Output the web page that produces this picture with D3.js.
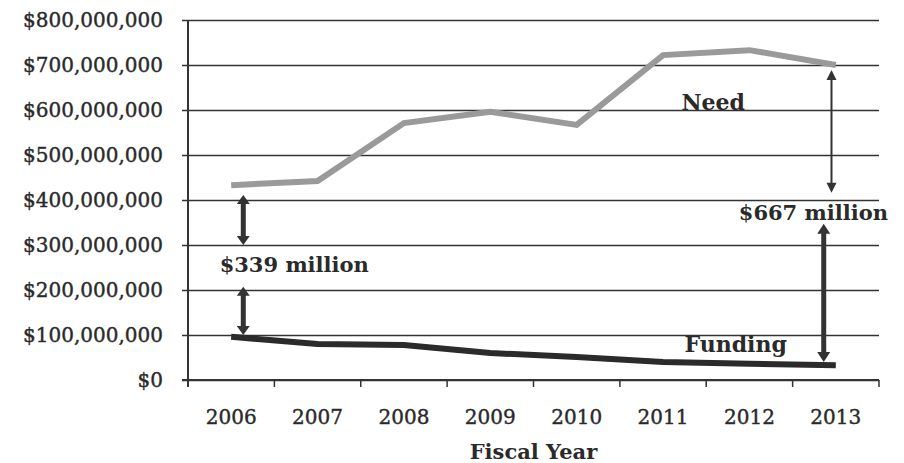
<!DOCTYPE html>
<html>
<head>
<meta charset="utf-8">
<script src="https://cdn.jsdelivr.net/npm/d3@7"></script>
<style>
  html, body { margin: 0; padding: 0; background: #fff; }
  svg { display: block; }
</style>
</head>
<body>
<div id="chart"></div>
<script>
// values in millions of dollars
const years = ["2006", "2007", "2008", "2009", "2010", "2011", "2012", "2013"];
const need = [433, 442, 571, 596, 567, 722, 733, 700];
const funding = [96, 80, 78, 60, 51, 40, 36, 33];
const yTicks = [0, 100, 200, 300, 400, 500, 600, 700, 800];

// gap annotations: position on the year axis (index), from/to value
const gapArrows = [
    { at: 0.14, from: 411, to: 300, w: 5, head: 13, len: 9 },
    { at: 0.14, from: 207, to: 100, w: 5, head: 13, len: 9 },
    { at: 6.95, from: 689, to: 416, w: 2, head: 10, len: 10 },
    { at: 6.86, from: 347, to: 40, w: 5, head: 13, len: 10 }
];
const labels = [
    { text: "Need", at: 5.58, value: 600, size: 22 },
    { text: "Funding", at: 5.84, value: 62, size: 22 },
    { text: "$339 million", at: 0.73, value: 240, size: 21 },
    { text: "$667 million", at: 6.74, value: 355, size: 21 }
];

const W = 904, H = 463;
const plotLeft = 188, plotRight = 879, plotTop = 20, plotBottom = 380;
const serif = "'DejaVu Serif', serif";
const ink = "#2a2a2a";

const svg = d3.select("#chart").append("svg")
    .attr("width", W)
    .attr("height", H);

const x = d3.scaleBand().domain(years).range([plotLeft, plotRight]).padding(0);
const xi = d3.scaleLinear().domain([-0.5, years.length - 0.5]).range([plotLeft, plotRight]);
const y = d3.scaleLinear().domain([0, 800]).range([plotBottom, plotTop]);

const fmt = d => "$" + d3.format(",")(d * 1e6);

// y axis with gridlines
const yAxis = svg.append("g")
    .attr("transform", `translate(${plotLeft},0)`)
    .call(d3.axisLeft(y)
        .tickValues(yTicks)
        .tickSize(-(plotRight - plotLeft))
        .tickSizeOuter(0)
        .tickPadding(25)
        .tickFormat(fmt));
yAxis.select(".domain").remove();
yAxis.selectAll(".tick line")
    .attr("x1", -6)
    .attr("stroke", "#333")
    .attr("stroke-width", 1.5);
yAxis.selectAll(".tick text")
    .attr("fill", ink)
    .attr("stroke", ink)
    .attr("stroke-width", 0.4)
    .style("font-family", serif)
    .style("font-size", "20px");

// vertical axis line
svg.append("line")
    .attr("x1", plotLeft).attr("x2", plotLeft)
    .attr("y1", y(800)).attr("y2", plotBottom + 7)
    .attr("stroke", "#333")
    .attr("stroke-width", 2);

// x axis: line, ticks between categories, labels at centers
svg.append("line")
    .attr("x1", plotLeft - 6).attr("x2", plotRight)
    .attr("y1", plotBottom).attr("y2", plotBottom)
    .attr("stroke", "#333")
    .attr("stroke-width", 2);

svg.append("g")
    .selectAll("line")
    .data(years)
    .join("line")
    .attr("x1", d => x(d) + x.bandwidth())
    .attr("x2", d => x(d) + x.bandwidth())
    .attr("y1", plotBottom)
    .attr("y2", plotBottom + 7)
    .attr("stroke", "#333")
    .attr("stroke-width", 1.5);

svg.append("g")
    .selectAll("text")
    .data(years)
    .join("text")
    .attr("x", d => x(d) + x.bandwidth() / 2)
    .attr("y", plotBottom + 44)
    .attr("text-anchor", "middle")
    .attr("fill", ink)
    .attr("stroke", ink)
    .attr("stroke-width", 0.4)
    .style("font-family", serif)
    .style("font-size", "20px")
    .text(d => d);

svg.append("text")
    .attr("x", (plotLeft + plotRight) / 2)
    .attr("y", 459)
    .attr("text-anchor", "middle")
    .attr("fill", ink)
    .style("font-family", serif)
    .style("font-weight", "bold")
    .style("font-size", "21px")
    .text("Fiscal Year");

// series lines
const line = d3.line()
    .x((d, i) => x(years[i]) + x.bandwidth() / 2)
    .y(d => y(d));

svg.append("path")
    .datum(need)
    .attr("d", line)
    .attr("fill", "none")
    .attr("stroke", "#9a9a9a")
    .attr("stroke-width", 6);

svg.append("path")
    .datum(funding)
    .attr("d", line)
    .attr("fill", "none")
    .attr("stroke", "#2b2b2b")
    .attr("stroke-width", 6);

// double-headed arrows
const arrows = svg.append("g").attr("fill", "#333").attr("stroke", "#333");
gapArrows.forEach(a => {
    const ax = xi(a.at), y1 = y(a.from), y2 = y(a.to);
    arrows.append("line")
        .attr("x1", ax).attr("x2", ax)
        .attr("y1", y1 + a.len - 1).attr("y2", y2 - a.len + 1)
        .attr("stroke-width", a.w);
    arrows.append("path")
        .attr("stroke", "none")
        .attr("d", `M${ax},${y1} L${ax - a.head / 2},${y1 + a.len} L${ax + a.head / 2},${y1 + a.len} Z`);
    arrows.append("path")
        .attr("stroke", "none")
        .attr("d", `M${ax},${y2} L${ax - a.head / 2},${y2 - a.len} L${ax + a.head / 2},${y2 - a.len} Z`);
});

// text annotations
svg.append("g")
    .selectAll("text")
    .data(labels)
    .join("text")
    .attr("x", d => xi(d.at))
    .attr("y", d => y(d.value))
    .attr("text-anchor", "middle")
    .attr("fill", ink)
    .style("font-family", serif)
    .style("font-weight", "bold")
    .style("font-size", d => d.size + "px")
    .text(d => d.text);
</script>
</body>
</html>
